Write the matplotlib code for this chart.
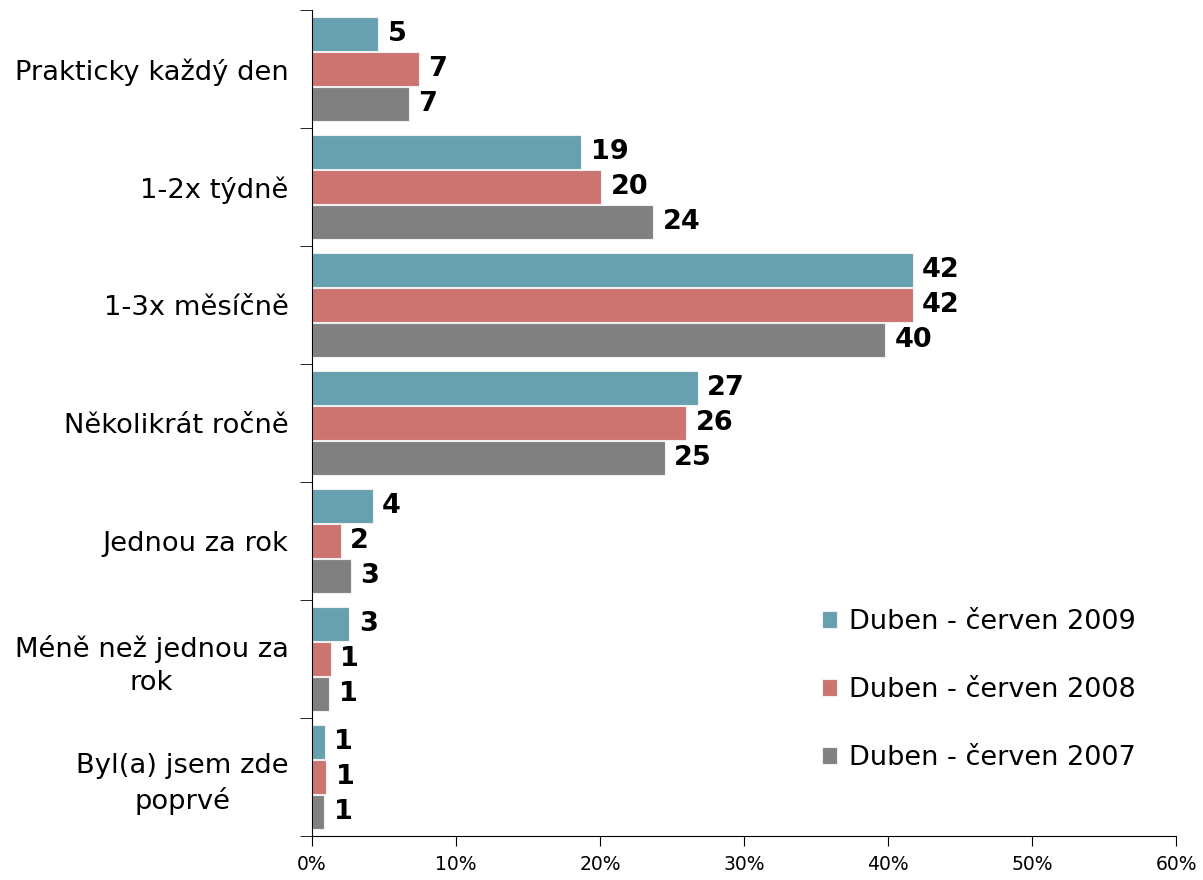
import matplotlib
matplotlib.use("Agg")
import matplotlib.pyplot as plt
from matplotlib.ticker import FuncFormatter, FixedLocator
import numpy as np

categories = ["Prakticky každý den", "1-2x týdně", "1-3x měsíčně", "Několikrát ročně",
              "Jednou za rok", "Méně než jednou za\nrok", "Byl(a) jsem zde\npoprvé"]
series_names = ["Duben - červen 2009", "Duben - červen 2008", "Duben - červen 2007"]
values_2009 = [4.6, 18.7, 41.7, 26.8, 4.2, 2.6, 0.9]
values_2008 = [7.4, 20.1, 41.7, 26.0, 2.0, 1.3, 1.0]
values_2007 = [6.7, 23.7, 39.8, 24.5, 2.7, 1.2, 0.85]
labels_2009 = ["5", "19", "42", "27", "4", "3", "1"]
labels_2008 = ["7", "20", "42", "26", "2", "1", "1"]
labels_2007 = ["7", "24", "40", "25", "3", "1", "1"]
colors = ["#67a0ae", "#cd7370", "#808080"]

plt.rcParams['font.family'] = ['DejaVu Sans']
fig = plt.figure(figsize=(12.03, 8.8), dpi=100)
ax = fig.add_axes([0.2594, 0.05, 0.7182, 0.9386])

n = len(categories)
y = np.arange(n)
h = 0.285
offs = [-0.297, 0.0, 0.297]
all_vals = [values_2009, values_2008, values_2007]
all_labels = [labels_2009, labels_2008, labels_2007]
for i in range(3):
    bars = ax.barh(y + offs[i], all_vals[i], height=h, color=colors[i],
                   edgecolor="#f0f0f0", linewidth=0.8, label=series_names[i])
    for b, lab in zip(bars, all_labels[i]):
        ax.text(b.get_width() + 0.65, b.get_y() + b.get_height() / 2, lab,
                va="center", ha="left", fontsize=19.5, fontweight="bold")

ax.set_xlim(0, 60)
ax.set_ylim(n - 0.5, -0.5)
ax.set_xticks(np.arange(0, 61, 10))
ax.xaxis.set_major_formatter(FuncFormatter(lambda v, p: f"{int(v)}%"))
ax.tick_params(axis="x", labelsize=13.5, length=7, direction="out", pad=7)
ax.set_yticks(y)
ax.set_yticklabels(categories, fontsize=19.7)
ax.tick_params(axis="y", length=0, pad=17)
ax.yaxis.set_minor_locator(FixedLocator(np.arange(-0.5, n, 1.0)))
ax.tick_params(axis="y", which="minor", length=9, direction="out")
for lbl in ax.get_yticklabels():
    lbl.set_multialignment("center")
    lbl.set_linespacing(1.35)
ax.spines["top"].set_visible(False)
ax.spines["right"].set_visible(False)

ax.legend(loc="center left", bbox_to_anchor=(0.59, 0.1768), frameon=False,
          fontsize=19.5, handlelength=0.55, handleheight=0.55, handletextpad=0.45,
          labelspacing=1.55, borderpad=0, borderaxespad=0)

fig.savefig("out.png", dpi=100)
